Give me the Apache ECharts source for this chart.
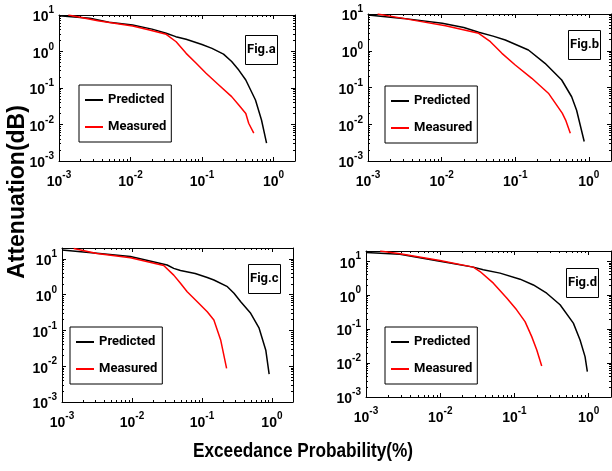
<!DOCTYPE html>
<html>
<head>
<meta charset="utf-8">
<script src="https://cdn.jsdelivr.net/npm/echarts@6/dist/echarts.min.js"></script>
<style>
  html, body { margin: 0; padding: 0; background: #fff; }
  #chart { width: 612px; height: 471px; }
</style>
</head>
<body>
<div id="chart"></div>
<script>
// Exceedance curves: attenuation (dB) vs. exceedance probability (%)
const panelNames = ['Fig.a', 'Fig.b', 'Fig.c', 'Fig.d'];
const seriesNames = ['Predicted', 'Measured'];
const minorTickSteps = [2, 3, 4, 5, 6, 7, 8, 9];

// Fig.a
const predAProb = [0.001, 0.0027, 0.005, 0.0107, 0.02, 0.0316, 0.043, 0.06, 0.1, 0.138, 0.2, 0.26, 0.327, 0.41, 0.56, 0.68, 0.8];
const predAAtt  = [9.5, 8.1, 6.3, 5.3, 4.1, 3.16, 2.55, 2.16, 1.55, 1.22, 0.85, 0.53, 0.31, 0.166, 0.047, 0.0133, 0.0031];
const measAProb = [0.00135, 0.0035, 0.0107, 0.0184, 0.0316, 0.0435, 0.06, 0.083, 0.114, 0.172, 0.26, 0.327, 0.41, 0.45, 0.53];
const measAAtt  = [10, 7.0, 5.0, 3.9, 2.96, 1.85, 0.89, 0.475, 0.253, 0.121, 0.058, 0.034, 0.020, 0.0108, 0.0058];

// Fig.b
const predBProb = [0.001, 0.003, 0.0102, 0.02, 0.0319, 0.05, 0.0733, 0.151, 0.254, 0.428, 0.584, 0.682, 0.865];
const predBAtt  = [9.4, 7.6, 5.6, 4.3, 3.2, 2.5, 1.96, 1.05, 0.455, 0.16, 0.056, 0.024, 0.0034];
const measBProb = [0.00135, 0.003, 0.00446, 0.0113, 0.0319, 0.046, 0.066, 0.1, 0.168, 0.282, 0.435, 0.484, 0.56];
const measBAtt  = [10, 7.6, 6.6, 4.8, 2.98, 1.76, 0.85, 0.41, 0.178, 0.07, 0.02, 0.013, 0.0057];

// Fig.c
const predCProb = [0.001, 0.00315, 0.0095, 0.0318, 0.0395, 0.0493, 0.08, 0.119, 0.148, 0.231, 0.287, 0.358, 0.497, 0.656, 0.817, 0.912];
const predCAtt  = [17.6, 14.3, 11.5, 6.7, 5.4, 4.7, 3.9, 3.0, 2.56, 1.66, 1.09, 0.63, 0.30, 0.115, 0.028, 0.006];
const measCProb = [0.00147, 0.00315, 0.0095, 0.0284, 0.0395, 0.0493, 0.0615, 0.0857, 0.119, 0.148, 0.185, 0.225];
const measCAtt  = [19.5, 14.0, 10.7, 6.5, 3.5, 2.07, 1.2, 0.63, 0.33, 0.195, 0.054, 0.0087];

// Fig.d
const predDProb = [0.001, 0.00287, 0.0099, 0.0279, 0.038, 0.064, 0.119, 0.18, 0.272, 0.412, 0.622, 0.766, 0.894, 0.96];
const predDAtt  = [18.1, 16.0, 10.0, 6.7, 5.6, 4.46, 2.96, 2.0, 1.14, 0.52, 0.15, 0.048, 0.0155, 0.0056];
const measDProb = [0.00155, 0.00287, 0.0099, 0.0279, 0.0344, 0.052, 0.0787, 0.107, 0.139, 0.171, 0.2, 0.233];
const measDAtt  = [20, 16.5, 10.5, 6.7, 4.97, 2.26, 0.82, 0.37, 0.166, 0.06, 0.0243, 0.0082];

const SANS = "'Liberation Sans', Arial, sans-serif";
const TIGHT = "Roboto, 'Liberation Sans', sans-serif";

const panels = [
  { name: panelNames[0], grid: { left: 59, top: 15, width: 236, height: 146 }, xMin: 0.001, xMax: 2, yMin: 0.001, yMax: 10,
    pred: [predAProb, predAAtt], meas: [measAProb, measAAtt], legend: { left: 79, top: 85 }, tag: { left: 245, top: 35 } },
  { name: panelNames[1], grid: { left: 368, top: 14, width: 243, height: 147 }, xMin: 0.001, xMax: 2, yMin: 0.001, yMax: 10,
    pred: [predBProb, predBAtt], meas: [measBProb, measBAtt], legend: { left: 385, top: 86 }, tag: { left: 568, top: 30 } },
  { name: panelNames[2], grid: { left: 62, top: 248, width: 231, height: 154 }, xMin: 0.001, xMax: 2, yMin: 0.001, yMax: 20,
    pred: [predCProb, predCAtt], meas: [measCProb, measCAtt], legend: { left: 70, top: 327 }, tag: { left: 248, top: 264 } },
  { name: panelNames[3], grid: { left: 366, top: 251, width: 245, height: 146 }, xMin: 0.001, xMax: 2, yMin: 0.001, yMax: 20,
    pred: [predDProb, predDAtt], meas: [measDProb, measDAtt], legend: { left: 385, top: 327 }, tag: { left: 566, top: 268 } }
];

// "10^n" tick labels at whole decades only
function powerLabel(v) {
  const e = Math.log10(v);
  const r = Math.round(e);
  if (Math.abs(e - r) > 1e-6) return '';
  return '{b|10}{s|' + r + '}';
}
const powerRich = {
  b: { fontFamily: SANS, fontWeight: 'bold', fontSize: 14, color: '#000', verticalAlign: 'bottom', lineHeight: 19 },
  s: { fontFamily: SANS, fontWeight: 'bold', fontSize: 10, color: '#000', verticalAlign: 'top', lineHeight: 19 }
};

// minor tick positions (exponent space) at 2..9 of each decade
function minorExponents(lo, hi) {
  const out = [];
  for (let e = Math.floor(lo); e < hi; e++) {
    minorTickSteps.forEach(k => {
      const v = e + Math.log10(k);
      if (v > lo && v < hi) out.push(v);
    });
  }
  return out;
}

const grids = [], xAxes = [], yAxes = [], series = [], legends = [], titles = [];
const boxLine = { show: true, onZero: false, lineStyle: { color: '#000', width: 1 } };
const noLine = { show: false, onZero: false };

panels.forEach((p, i) => {
  grids.push(Object.assign({ outerBoundsMode: 'none', containLabel: false }, p.grid));

  const xLo = Math.log10(p.xMin), xHi = Math.log10(p.xMax);
  const yLo = Math.log10(p.yMin), yHi = Math.log10(p.yMax);

  ['bottom', 'top'].forEach(pos => {
    xAxes.push({
      type: 'log', logBase: 10, gridIndex: i, position: pos, min: p.xMin, max: p.xMax,
      axisLine: boxLine,
      axisTick: { show: true, inside: true, length: 4, lineStyle: { color: '#000', width: 1 } },
      minorTick: { show: false }, splitLine: { show: false },
      axisLabel: pos === 'bottom'
        ? { show: true, margin: 9, formatter: powerLabel, rich: powerRich, hideOverlap: false }
        : { show: false }
    });
  });
  ['bottom', 'top'].forEach(pos => {
    xAxes.push({
      type: 'value', gridIndex: i, position: pos, min: xLo, max: xHi,
      axisLine: noLine, axisLabel: { show: false }, splitLine: { show: false },
      axisTick: { show: true, inside: true, length: 2, customValues: minorExponents(xLo, xHi),
                  lineStyle: { color: '#000', width: 1 } }
    });
  });
  ['left', 'right'].forEach(pos => {
    yAxes.push({
      type: 'log', logBase: 10, gridIndex: i, position: pos, min: p.yMin, max: p.yMax,
      axisLine: boxLine,
      axisTick: { show: true, inside: true, length: 4, lineStyle: { color: '#000', width: 1 } },
      minorTick: { show: false }, splitLine: { show: false },
      axisLabel: pos === 'left'
        ? { show: true, margin: 5, formatter: powerLabel, rich: powerRich, hideOverlap: false }
        : { show: false }
    });
  });
  ['left', 'right'].forEach(pos => {
    yAxes.push({
      type: 'value', gridIndex: i, position: pos, min: yLo, max: yHi,
      axisLine: noLine, axisLabel: { show: false }, splitLine: { show: false },
      axisTick: { show: true, inside: true, length: 2, customValues: minorExponents(yLo, yHi),
                  lineStyle: { color: '#000', width: 1 } }
    });
  });

  const pair = (xs, ys) => xs.map((x, k) => [x, ys[k]]);
  [[seriesNames[0], p.pred, '#000'], [seriesNames[1], p.meas, '#ff0000']].forEach(([name, d, color]) => {
    series.push({
      name: name, type: 'line', xAxisIndex: i * 4, yAxisIndex: i * 4,
      data: pair(d[0], d[1]), showSymbol: false, symbol: 'none', clip: true,
      lineStyle: { color: color, width: 1.5 }, itemStyle: { color: color },
      emphasis: { disabled: true }, animation: false
    });
  });

  legends.push({
    data: seriesNames, orient: 'vertical', left: p.legend.left, top: p.legend.top,
    padding: [7, 5, 7, 6], itemGap: 11, itemWidth: 18, itemHeight: 2, icon: 'rect',
    borderColor: '#000', borderWidth: 1, borderRadius: 0, backgroundColor: '#fff',
    selectedMode: false,
    textStyle: { fontFamily: TIGHT, fontWeight: 'bold', fontSize: 13, color: '#000', lineHeight: 16 }
  });

  titles.push({
    text: p.name, left: p.tag.left, top: p.tag.top, padding: [8, 2],
    borderColor: '#000', borderWidth: 1, backgroundColor: '#fff',
    textStyle: { fontFamily: TIGHT, fontWeight: 'bold', fontSize: 13, color: '#000', lineHeight: 14 }
  });
});

const chart = echarts.init(document.getElementById('chart'), null, { renderer: 'canvas' });
chart.setOption({
  animation: false,
  backgroundColor: '#fff',
  title: titles,
  legend: legends,
  grid: grids,
  xAxis: xAxes,
  yAxis: yAxes,
  series: series,
  graphic: [
    { type: 'text', x: 18, y: 192, rotation: Math.PI / 2,
      style: { text: 'Attenuation(dB)', fontFamily: SANS, fontWeight: 'bold', fontSize: 23, fill: '#000',
               align: 'center', verticalAlign: 'middle' } },
    { type: 'text', x: 303, y: 451, scaleX: 0.82,
      style: { text: 'Exceedance Probability(%)', fontFamily: SANS, fontWeight: 'bold', fontSize: 21, fill: '#000',
               align: 'center', verticalAlign: 'middle' } }
  ]
});
</script>
</body>
</html>
